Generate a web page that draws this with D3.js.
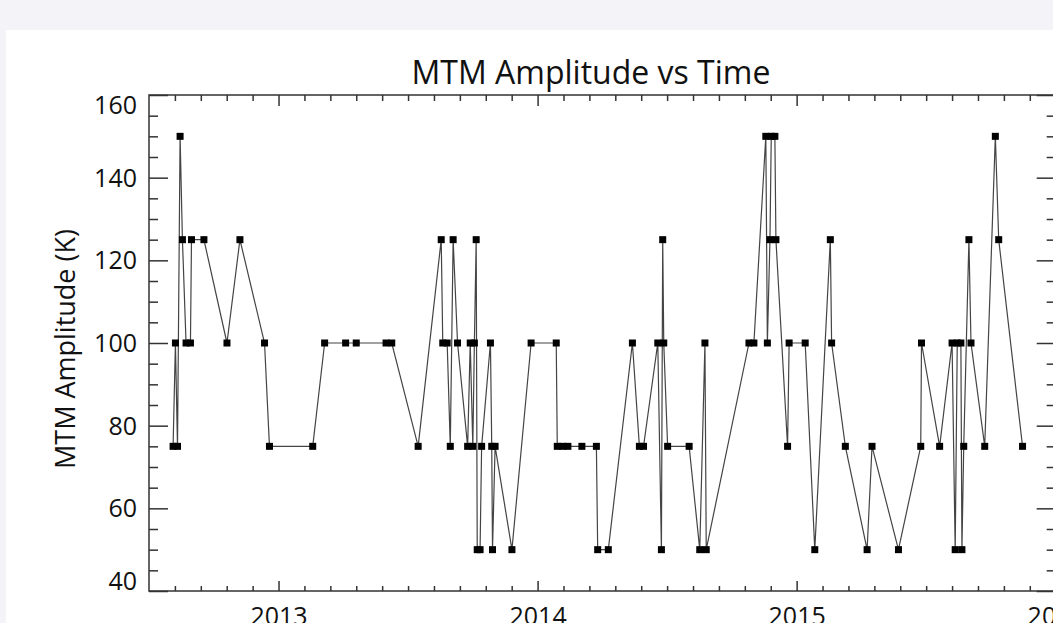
<!DOCTYPE html>
<html>
<head>
<meta charset="utf-8">
<script src="https://cdn.jsdelivr.net/npm/d3@7"></script>
<style>
  body { margin: 0; background: #f4f3f8; }
  svg { display: block; }
  text { font-family: "Open Sans", "Noto Sans", sans-serif; fill: #111; }
</style>
</head>
<body>
<svg id="chart" width="1053" height="623"></svg>
<script>
// observation times (decimal year) and MTM amplitude (K)
var years = [
  2012.593, 2012.602, 2012.610, 2012.620, 2012.629, 2012.643, 2012.660, 2012.664, 2012.712, 2012.801,
  2012.851, 2012.946, 2012.965, 2013.132, 2013.178, 2013.259, 2013.300, 2013.415, 2013.437, 2013.539,
  2013.628, 2013.634, 2013.651, 2013.663, 2013.674, 2013.691, 2013.730, 2013.740, 2013.750, 2013.756,
  2013.763, 2013.767, 2013.778, 2013.784, 2013.818, 2013.823, 2013.826, 2013.836, 2013.901, 2013.975,
  2014.072, 2014.076, 2014.097, 2014.117, 2014.171, 2014.227, 2014.232, 2014.273, 2014.366, 2014.393,
  2014.409, 2014.464, 2014.478, 2014.483, 2014.487, 2014.502, 2014.585, 2014.626, 2014.646, 2014.651,
  2014.816, 2014.835, 2014.881, 2014.887, 2014.897, 2014.902, 2014.916, 2014.920, 2014.965, 2014.971,
  2015.033, 2015.070, 2015.130, 2015.135, 2015.188, 2015.272, 2015.291, 2015.393, 2015.479, 2015.482,
  2015.552, 2015.600, 2015.612, 2015.620, 2015.634, 2015.638, 2015.645, 2015.665, 2015.673, 2015.726,
  2015.767, 2015.780, 2015.872
];
var amps = [
  75, 100, 75, 150, 125, 100, 100, 125, 125, 100,
  125, 100, 75, 75, 100, 100, 100, 100, 100, 75,
  125, 100, 100, 75, 125, 100, 75, 100, 75, 100,
  125, 50, 50, 75, 100, 75, 50, 75, 50, 100,
  100, 75, 75, 75, 75, 75, 50, 50, 100, 75,
  75, 100, 50, 125, 100, 75, 75, 50, 100, 50,
  100, 100, 150, 100, 125, 150, 150, 125, 75, 100,
  100, 50, 125, 100, 75, 50, 75, 50, 75, 100,
  75, 100, 50, 100, 100, 50, 75, 125, 100, 75,
  150, 125, 75
];
var yTicks = [40, 60, 80, 100, 120, 140, 160];
var yMinor = d3.range(40, 161, 5).filter(function(v){ return v % 20 !== 0; });
var xTicks = [2013, 2014, 2015, 2016];
var xMinor = d3.range(2012.6, 2016.0, 0.1).filter(function(v){ return Math.abs(v - Math.round(v)) > 0.01; });

var L = 149, R = 1055.7, T = 95, B = 591;

var svg = d3.select('#chart');

// white panel
svg.append('rect')
  .attr('x', 6).attr('y', 30)
  .attr('width', 1100).attr('height', 700)
  .attr('fill', '#fff');

var x = d3.scaleLinear().domain([2012.5, 2016.0]).range([L, R]);
var y = d3.scaleLinear().domain([40, 160]).range([B, T]);

var styleAxis = function(g){
  g.select('.domain').remove();
  g.selectAll('.tick line').attr('stroke', '#333').attr('stroke-width', 1.5);
  g.selectAll('.tick text').style('font-size', '25px').attr('fill', '#111');
};

// major ticks
svg.append('g').attr('transform', 'translate(' + L + ',0)')
  .call(d3.axisLeft(y).tickValues(yTicks).tickSize(-19).tickPadding(12))
  .call(styleAxis)
  .call(function(g){
    g.selectAll('.tick text')
      .attr('dy', function(d){ return d === 160 ? '0.72em' : (d === 40 ? '-0.05em' : '0.34em'); });
  });
svg.append('g').attr('transform', 'translate(' + R + ',0)')
  .call(d3.axisRight(y).tickValues(yTicks).tickSize(-19).tickFormat(''))
  .call(styleAxis);
svg.append('g').attr('transform', 'translate(0,' + B + ')')
  .call(d3.axisBottom(x).tickValues(xTicks).tickSize(-10).tickPadding(16).tickFormat(d3.format('d')))
  .call(styleAxis);
svg.append('g').attr('transform', 'translate(0,' + T + ')')
  .call(d3.axisTop(x).tickValues(xTicks).tickSize(-11).tickFormat(''))
  .call(styleAxis);

// minor ticks
svg.append('g').attr('transform', 'translate(' + L + ',0)')
  .call(d3.axisLeft(y).tickValues(yMinor).tickSize(-9).tickFormat(''))
  .call(styleAxis);
svg.append('g').attr('transform', 'translate(' + R + ',0)')
  .call(d3.axisRight(y).tickValues(yMinor).tickSize(-9).tickFormat(''))
  .call(styleAxis);
svg.append('g').attr('transform', 'translate(0,' + B + ')')
  .call(d3.axisBottom(x).tickValues(xMinor).tickSize(-5).tickFormat(''))
  .call(styleAxis);
svg.append('g').attr('transform', 'translate(0,' + T + ')')
  .call(d3.axisTop(x).tickValues(xMinor).tickSize(-6).tickFormat(''))
  .call(styleAxis);

// frame
svg.append('rect')
  .attr('x', L).attr('y', T)
  .attr('width', R - L).attr('height', B - T)
  .attr('fill', 'none').attr('stroke', '#333').attr('stroke-width', 1.5);

var pts = years.map(function(t, i){ return {t: t, v: amps[i]}; });

var line = d3.line()
  .x(function(d){ return x(d.t); })
  .y(function(d){ return y(d.v); });

svg.append('path')
  .datum(pts)
  .attr('d', line)
  .attr('fill', 'none')
  .attr('stroke', '#444')
  .attr('stroke-width', 1.2);

svg.selectAll('rect.pt')
  .data(pts)
  .enter()
  .append('rect')
  .attr('class', 'pt')
  .attr('x', function(d){ return x(d.t) - 3.5; })
  .attr('y', function(d){ return y(d.v) - 3.5; })
  .attr('width', 7)
  .attr('height', 7)
  .attr('fill', '#000');

// titles
svg.append('text')
  .attr('x', 591).attr('y', 84)
  .attr('text-anchor', 'middle')
  .style('font-size', '32px')
  .text('MTM Amplitude vs Time');

svg.append('text')
  .attr('transform', 'translate(75,' + ((T + B) / 2 + 6) + ') rotate(-90)')
  .attr('text-anchor', 'middle')
  .style('font-size', '27px')
  .text('MTM Amplitude (K)');
</script>
</body>
</html>
